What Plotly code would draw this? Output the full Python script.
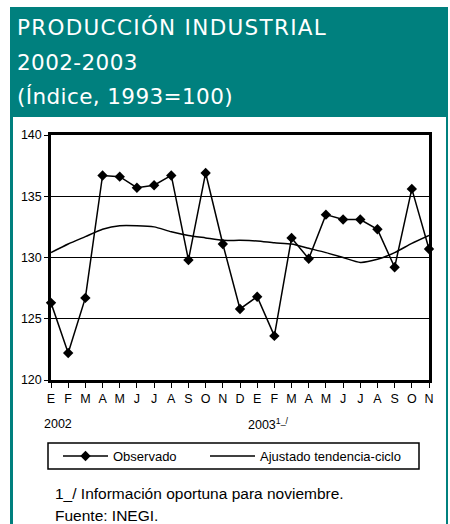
import plotly.graph_objects as go

months = ["E", "F", "M", "A", "M", "J", "J", "A", "S", "O", "N", "D",
          "E", "F", "M", "A", "M", "J", "J", "A", "S", "O", "N"]
observado = [126.3, 122.2, 126.7, 136.7, 136.6, 135.7, 135.9, 136.7, 129.8, 136.9, 131.1, 125.8,
             126.8, 123.6, 131.6, 129.9, 133.5, 133.1, 133.1, 132.3, 129.2, 135.6, 130.7]
tendencia = [130.4, 131.1, 131.7, 132.3, 132.6, 132.6, 132.5, 132.1, 131.8, 131.6, 131.4, 131.4,
             131.35, 131.2, 131.1, 130.75, 130.4, 130.0, 129.6, 129.85, 130.4, 131.15, 131.8]
y_ticks = [120, 125, 130, 135, 140]
x = list(range(len(months)))

W, H = 450, 524
L, R, T, B = 51, 429, 135, 380  # plot area in px


def px(xp):
    return (xp - L) / (R - L)


def py(yp):
    return (B - yp) / (B - T)


fig = go.Figure()
fig.add_trace(go.Scatter(x=x, y=observado, name="Observado", mode="lines+markers",
                         line=dict(color="black", width=1.5),
                         marker=dict(symbol="diamond", size=8, color="black"),
                         cliponaxis=False, legend="legend"))
fig.add_trace(go.Scatter(x=x, y=tendencia, name="Ajustado tendencia-ciclo", mode="lines",
                         line=dict(color="black", width=1.5, shape="spline", smoothing=0.6),
                         cliponaxis=False, legend="legend2"))

teal = "#00807E"
shapes = [
    dict(type="rect", xref="paper", yref="paper", x0=px(10), x1=px(448), y0=py(530), y1=py(7),
         fillcolor=teal, line=dict(width=0), layer="below"),
    dict(type="rect", xref="paper", yref="paper", x0=px(13), x1=px(446), y0=py(530), y1=py(117),
         fillcolor="white", line=dict(width=0), layer="below"),
    dict(type="rect", xref="paper", yref="paper", x0=px(48), x1=px(419), y0=py(469), y1=py(443),
         fillcolor="white", line=dict(color="black", width=1.5), layer="below"),
]

ann = []
title_lines = ['<span style="letter-spacing:1.3px">PRODUCCIÓN INDUSTRIAL</span>',
               '<span style="letter-spacing:0.4px">2002-2003</span>',
               '<span style="letter-spacing:0.4px">(Índice, 1993=100)</span>']
for i, t in enumerate(title_lines):
    ann.append(dict(text=t, xref="paper", yref="paper", x=px(15), y=py(27 + 35 * i),
                    xanchor="left", yanchor="middle", showarrow=False,
                    font=dict(family="DejaVu Sans", size=21.5, color="white")))
ann.append(dict(text="2002", xref="paper", yref="paper", x=px(58), y=py(424),
                xanchor="center", yanchor="middle", showarrow=False,
                font=dict(family="Liberation Sans", size=12.5, color="black")))
ann.append(dict(text="2003<sup>1_/</sup>", xref="paper", yref="paper", x=px(246), y=py(424),
                xanchor="left", yanchor="middle", showarrow=False,
                font=dict(family="Liberation Sans", size=12.5, color="black")))
ann.append(dict(text="1_/ Información oportuna para noviembre.", xref="paper", yref="paper",
                x=px(53), y=py(493), xanchor="left", yanchor="middle", showarrow=False,
                font=dict(family="Liberation Sans", size=15.5, color="black")))
ann.append(dict(text="Fuente: INEGI.", xref="paper", yref="paper",
                x=px(53), y=py(515), xanchor="left", yanchor="middle", showarrow=False,
                font=dict(family="Liberation Sans", size=15.5, color="black")))

leg_common = dict(orientation="h", xanchor="left", yanchor="middle",
                  borderwidth=0, bgcolor="rgba(0,0,0,0)",
                  font=dict(family="Liberation Sans", size=13, color="black"),
                  itemwidth=45)
fig.update_layout(
    width=W, height=H,
    margin=dict(l=L, r=W - R, t=T, b=H - B, pad=0),
    paper_bgcolor="white", plot_bgcolor="white",
    shapes=shapes, annotations=ann,
    showlegend=True,
    legend=dict(x=px(58), y=py(456), **leg_common),
    legend2=dict(x=px(205), y=py(456), **leg_common),
    font=dict(family="Liberation Sans", size=12.5, color="black"),
)
fig.update_xaxes(range=[0, len(months) - 1], tickvals=x, ticktext=months,
                 showgrid=False, zeroline=False, showline=True, linecolor="black", linewidth=2.5,
                 mirror=True, ticks="outside", ticklen=5, tickwidth=1, tickcolor="black",
                 tickfont=dict(family="Liberation Sans", size=12.5), fixedrange=True)
fig.update_yaxes(range=[120, 140], tickvals=y_ticks, showgrid=True, gridcolor="black", gridwidth=1,
                 zeroline=False, showline=True, linecolor="black", linewidth=2.5, mirror=True,
                 ticks="outside", ticklen=4, tickwidth=1, tickcolor="black",
                 tickfont=dict(family="Liberation Sans", size=12.5), fixedrange=True)

fig.write_html("out.html")
